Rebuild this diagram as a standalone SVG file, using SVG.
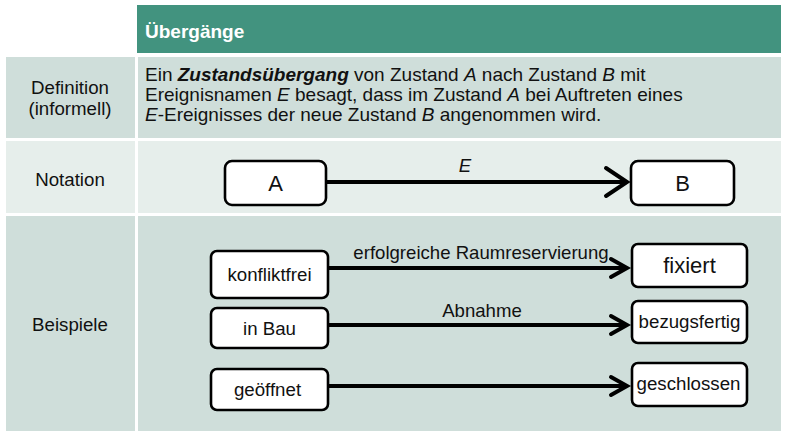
<svg xmlns="http://www.w3.org/2000/svg" width="788" height="438" viewBox="0 0 788 438">
  <defs>
    <style>
      text { font-family: "Liberation Sans", Arial, sans-serif; fill: #111; }
      .hdr { font-size: 19px; font-weight: bold; fill: #ffffff; }
      .lbl { font-size: 18.7px; text-anchor: middle; }
      .body { font-size: 19px; }
      .st { font-size: 18.7px; text-anchor: middle; }
      .big { font-size: 22px; }
      .tr { font-size: 18.6px; text-anchor: middle; }
      .dark { fill: #cfdeda; }
      .light { fill: #e6eeeb; }
      .box { fill: #ffffff; stroke: #000; stroke-width: 2.6; }
      .edge { fill: none; stroke: #000; stroke-width: 4; }
      .head { fill: none; stroke: #000; stroke-width: 4; stroke-linecap: round; stroke-linejoin: miter; }
    </style>
  </defs>
  <rect x="0" y="0" width="788" height="438" fill="#ffffff"/>

  <!-- table grid -->
  <g id="table">
    <rect x="137" y="5" width="644" height="48" fill="#42937f"/>
    <rect class="dark" x="6" y="57" width="129" height="81"/>
    <rect class="dark" x="138" y="57" width="643" height="81"/>
    <rect class="light" x="6" y="141" width="129" height="72"/>
    <rect class="light" x="138" y="141" width="643" height="72"/>
    <rect class="dark" x="6" y="216" width="129" height="215"/>
    <rect class="dark" x="138" y="216" width="643" height="215"/>
    <text class="hdr" x="145" y="38">Übergänge</text>
    <text class="lbl" x="70" y="94">Definition</text>
    <text class="lbl" x="70" y="115">(informell)</text>
    <text class="lbl" x="70" y="186">Notation</text>
    <text class="lbl" x="70" y="331">Beispiele</text>
    <text class="body" x="145" y="81">Ein <tspan font-weight="bold" font-style="italic">Zustandsübergang</tspan> von Zustand <tspan font-style="italic">A</tspan> nach Zustand <tspan font-style="italic">B</tspan> mit</text>
    <text class="body" x="145" y="101">Ereignisnamen <tspan font-style="italic">E</tspan> besagt, dass im Zustand <tspan font-style="italic">A</tspan> bei Auftreten eines</text>
    <text class="body" x="145" y="121"><tspan font-style="italic">E</tspan>-Ereignisses der neue Zustand <tspan font-style="italic">B</tspan> angenommen wird.</text>
  </g>

  <!-- connectors -->
  <g id="connectors">
    <g id="e-A-B">
      <line class="edge" x1="326" y1="182" x2="626" y2="182"/>
      <polyline class="head" points="606,168 627,182 606,196"/>
      <text class="tr big" x="465" y="172" font-style="italic">E</text>
    </g>
    <g id="e-konfliktfrei-fixiert">
      <line class="edge" x1="328" y1="268" x2="626" y2="268"/>
      <polyline class="head" points="611,259 627,268 611,277"/>
      <text class="tr" x="481" y="259">erfolgreiche Raumreservierung</text>
    </g>
    <g id="e-inbau-bezugsfertig">
      <line class="edge" x1="328" y1="325" x2="626" y2="325"/>
      <polyline class="head" points="611,316 627,325 611,334"/>
      <text class="tr" x="482" y="317">Abnahme</text>
    </g>
    <g id="e-geoeffnet-geschlossen">
      <line class="edge" x1="328" y1="386" x2="626" y2="386"/>
      <polyline class="head" points="611,377 627,386 611,395"/>
    </g>
  </g>

  <!-- states -->
  <g id="A">
    <rect class="box" x="225" y="161" width="101" height="44" rx="7"/>
    <text class="st big" x="275.5" y="191">A</text>
  </g>
  <g id="B">
    <rect class="box" x="631" y="161" width="103" height="44" rx="7"/>
    <text class="st big" x="682.5" y="191">B</text>
  </g>
  <g id="konfliktfrei">
    <rect class="box" x="211" y="251" width="117" height="47" rx="6"/>
    <text class="st" x="269.5" y="281">konfliktfrei</text>
  </g>
  <g id="fixiert">
    <rect class="box" x="632" y="244" width="115" height="43" rx="6"/>
    <text class="st big" x="689.5" y="273">fixiert</text>
  </g>
  <g id="inbau">
    <rect class="box" x="211" y="308" width="117" height="40" rx="6"/>
    <text class="st" x="269.5" y="335">in Bau</text>
  </g>
  <g id="bezugsfertig">
    <rect class="box" x="632" y="301" width="115" height="42" rx="6"/>
    <text class="st" x="689.5" y="328">bezugsfertig</text>
  </g>
  <g id="geoeffnet">
    <rect class="box" x="211" y="369" width="117" height="41" rx="6"/>
    <text class="st" x="267.5" y="396">geöffnet</text>
  </g>
  <g id="geschlossen">
    <rect class="box" x="632" y="363" width="115" height="43" rx="6"/>
    <text class="st" x="688.5" y="390">geschlossen</text>
  </g>
</svg>
